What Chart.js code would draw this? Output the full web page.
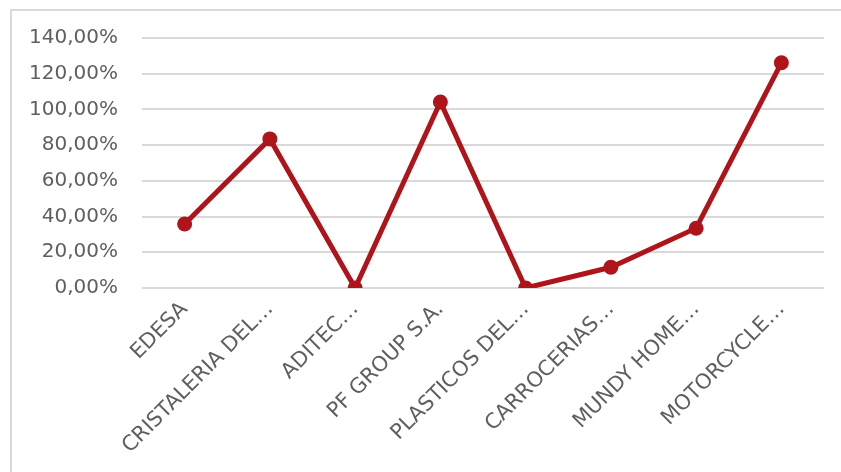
<!DOCTYPE html>
<html>
<head>
<meta charset="utf-8">
<script src="https://cdn.jsdelivr.net/npm/chart.js@4.4.1/dist/chart.umd.min.js"></script>
<style>
  html, body { margin: 0; padding: 0; background: #ffffff; }
  #wrap { position: relative; width: 841px; height: 472px; }
  canvas { display: block; }
</style>
</head>
<body>
<div id="wrap"><canvas id="chart" width="841" height="472"></canvas></div>
<script>
// Companies on the category axis
const categories = [
  'EDESA',
  'CRISTALERIA DEL…',
  'ADITEC…',
  'PF GROUP S.A.',
  'PLASTICOS DEL…',
  'CARROCERIAS…',
  'MUNDY HOME…',
  'MOTORCYCLE…'
];

// Percentage per company
const values = [35.8, 83.5, 0, 104.2, 0, 11.6, 33.5, 126.1];

// Value axis range and step (percent)
const yMin = 0;
const yMax = 140;
const yStep = 20;

const lineColor = '#ae1419';
const gridColor = '#d9d9d9';
const textColor = '#5f5f5f';
const fontFamily = '"DejaVu Sans", "Liberation Sans", sans-serif';

// Thin frame along the top and left edges of the chart box
const framePlugin = {
  id: 'frame',
  beforeDraw(chart) {
    const ctx = chart.ctx;
    ctx.save();
    ctx.strokeStyle = gridColor;
    ctx.lineWidth = 2;
    ctx.beginPath();
    ctx.moveTo(11, chart.height + 5);
    ctx.lineTo(11, 10);
    ctx.moveTo(10, 10);
    ctx.lineTo(chart.width + 5, 10);
    ctx.stroke();
    ctx.restore();
  }
};

new Chart(document.getElementById('chart'), {
  type: 'line',
  data: {
    labels: categories,
    datasets: [{
      data: values,
      borderColor: lineColor,
      backgroundColor: lineColor,
      borderWidth: 5,
      pointRadius: 7.5,
      pointHoverRadius: 7.5,
      pointBorderWidth: 0,
      pointBackgroundColor: lineColor,
      tension: 0,
      fill: false
    }]
  },
  options: {
    responsive: false,
    devicePixelRatio: 1,
    animation: false,
    layout: { padding: { top: 38, right: 17, bottom: 0, left: 0 } },
    plugins: {
      legend: { display: false },
      tooltip: { enabled: false }
    },
    scales: {
      x: {
        offset: true,
        grid: { display: false, drawTicks: false },
        border: { display: false },
        ticks: {
          autoSkip: false,
          minRotation: 45,
          maxRotation: 45,
          padding: 9,
          color: textColor,
          font: { family: fontFamily, size: 21 }
        },
        afterFit(scale) { scale.height = 184; }
      },
      y: {
        min: yMin,
        max: yMax,
        grid: { color: gridColor, lineWidth: 2, drawTicks: false },
        border: { display: false },
        ticks: {
          stepSize: yStep,
          padding: 24,
          color: textColor,
          font: { family: fontFamily, size: 20 },
          callback: v => v.toFixed(2).replace('.', ',') + '%'
        },
        afterFit(scale) { scale.width = 142; }
      }
    }
  },
  plugins: [framePlugin]
});
</script>
</body>
</html>
